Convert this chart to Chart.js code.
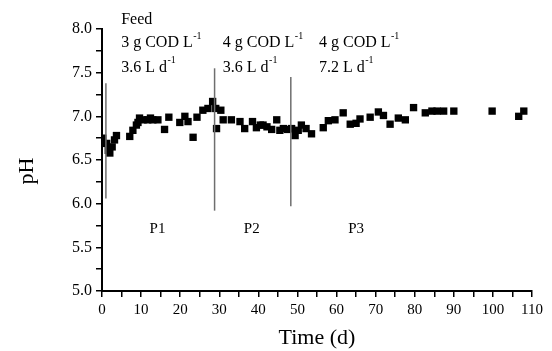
<!DOCTYPE html>
<html>
<head>
<meta charset="utf-8">
<script src="https://cdn.jsdelivr.net/npm/chart.js@4/dist/chart.umd.min.js"></script>
<style>
    html, body { margin: 0; padding: 0; background: #FFFFFF; }
    #chartWrap { width: 552px; height: 351px; position: relative; }
</style>
</head>
<body>
<div id="chartWrap"><canvas id="phChart"></canvas></div>
<script>
// pH readings (time in days)
const timeDays = [
    0.2, 1.2, 1.6, 2.0, 2.6, 3.2, 3.7, 7.1, 7.9, 8.8, 9.2, 9.6, 10.5, 11.7, 12.4, 13.0, 14.3,
    16.0, 17.1, 19.9, 21.2, 22.0, 23.3, 24.3, 25.8, 27.1, 28.3, 29.1, 29.3, 30.4, 31.0,
    33.1, 35.3, 36.5, 38.5, 39.5, 40.5, 41.2, 42.2, 43.4, 44.7, 45.5, 46.4, 47.5, 48.5,
    49.4, 50.2, 51.0, 52.2, 53.6, 56.6, 57.9, 59.6, 61.7, 63.5, 65.0, 66.0, 68.6, 70.7,
    72.0, 73.7, 75.8, 77.6, 79.7, 82.7, 84.4, 85.7, 87.4, 90.0, 99.8, 106.6, 107.9
];
const phValues = [
    6.75, 6.69, 6.61, 6.58, 6.65, 6.73, 6.78, 6.77, 6.84, 6.90, 6.93, 6.98, 6.96, 6.96, 6.98, 6.96, 6.96,
    6.85, 6.99, 6.93, 7.00, 6.94, 6.76, 6.99, 7.07, 7.09, 7.17, 7.09, 6.86, 7.07, 6.96,
    6.96, 6.94, 6.86, 6.94, 6.87, 6.90, 6.90, 6.88, 6.85, 6.96, 6.84, 6.86, 6.85, 6.86,
    6.78, 6.84, 6.90, 6.86, 6.80, 6.87, 6.95, 6.96, 7.04, 6.91, 6.92, 6.97, 6.99, 7.05,
    7.01, 6.91, 6.98, 6.96, 7.10, 7.04, 7.06, 7.06, 7.06, 7.06, 7.06, 7.00, 7.06
];

// period boundary lines
const boundaryDays = [1.0, 28.8, 48.3];
const boundaryTop = [7.38, 7.55, 7.45];
const boundaryBottom = [6.06, 5.92, 5.97];

// period labels
const periodNames = ["P1", "P2", "P3"];
const periodDays = [14.2, 38.3, 65.0];
const periodPh = 5.71;

// feed conditions, one column per period
const feedDays = [4.9, 30.9, 55.5];
const feedCod = ["3", "4", "4"];
const feedFlow = ["3.6", "3.6", "7.2"];
const feedRowPh = [8.10, 7.84, 7.56];

const xTickStep = 5;
const yTickStep = 0.25;

const serif = "'Liberation Serif', 'Times New Roman', serif";


document.addEventListener("DOMContentLoaded", function () {
    initializePhChart();
});


function drawSupText(ctx, parts, x, y) {
    let cursor = x;
    parts.forEach(function (part) {
        if (part.sup) {
            ctx.font = "10px " + serif;
            ctx.fillText(part.text, cursor + 0.5, y - 7);
        } else {
            ctx.font = "16px " + serif;
            ctx.fillText(part.text, cursor, y);
        }
        cursor += ctx.measureText(part.text).width;
    });
}


const annotationPlugin = {
    id: "phAnnotations",

    afterDatasetsDraw: function (chart) {
        const ctx = chart.ctx;
        const xScale = chart.scales.x;
        const yScale = chart.scales.y;

        ctx.save();
        ctx.fillStyle = "#000000";
        ctx.textBaseline = "middle";

        // y axis title, sits a little below the middle in the original
        ctx.save();
        ctx.translate(27, (yScale.top + yScale.bottom) / 2 + 11);
        ctx.rotate(-Math.PI / 2);
        ctx.textAlign = "center";
        ctx.font = "22px " + serif;
        ctx.fillText("pH", 0, 0);
        ctx.restore();

        // period names
        ctx.textAlign = "center";
        ctx.font = "15px " + serif;
        periodNames.forEach(function (name, i) {
            ctx.fillText(
                name,
                xScale.getPixelForValue(periodDays[i]),
                yScale.getPixelForValue(periodPh)
            );
        });

        // feed block
        ctx.textAlign = "left";
        ctx.font = "16px " + serif;
        ctx.fillText(
            "Feed",
            xScale.getPixelForValue(feedDays[0]),
            yScale.getPixelForValue(feedRowPh[0])
        );

        feedDays.forEach(function (day, i) {
            const x = xScale.getPixelForValue(day);

            drawSupText(ctx, [
                { text: feedCod[i] + " g COD L" },
                { text: "-1", sup: true }
            ], x, yScale.getPixelForValue(feedRowPh[1]));

            drawSupText(ctx, [
                { text: feedFlow[i] + " L d" },
                { text: "-1", sup: true }
            ], x, yScale.getPixelForValue(feedRowPh[2]));
        });

        ctx.restore();
    }
};


function initializePhChart() {
    const canvas = document.getElementById("phChart");

    if (!canvas || typeof Chart === "undefined") {
        return;
    }

    const points = timeDays.map(function (day, i) {
        return { x: day, y: phValues[i] };
    });

    const boundaryDatasets = boundaryDays.map(function (day, i) {
        return {
            type: "line",
            data: [
                { x: day, y: boundaryBottom[i] },
                { x: day, y: boundaryTop[i] }
            ],
            borderColor: "#6E6E6E",
            borderWidth: 1.5,
            pointRadius: 0,
            fill: false
        };
    });

    new Chart(canvas, {
        type: "scatter",

        data: {
            datasets: boundaryDatasets.concat([
                {
                    data: points,
                    pointStyle: "rect",
                    pointRadius: 5.2,
                    pointBorderWidth: 0,
                    backgroundColor: "#000000",
                    borderColor: "#000000"
                }
            ])
        },

        options: {
            responsive: true,
            maintainAspectRatio: false,
            animation: false,
            devicePixelRatio: 1,

            layout: {
                padding: { top: 29, right: 20, left: 0, bottom: 0 }
            },

            plugins: {
                legend: { display: false },
                tooltip: { enabled: false }
            },

            scales: {
                x: {
                    type: "linear",
                    min: 0,
                    max: 110,
                    afterFit: function (scale) {
                        scale.height = 60;
                    },
                    border: { color: "#000000", width: 2 },
                    grid: {
                        drawOnChartArea: false,
                        color: "#000000",
                        lineWidth: 1.5,
                        tickLength: 6
                    },
                    ticks: {
                        stepSize: xTickStep,
                        autoSkip: false,
                        maxRotation: 0,
                        padding: 4,
                        color: "#000000",
                        font: { family: serif, size: 15 },
                        callback: function (value) {
                            return value % 10 === 0 ? String(value) : "";
                        }
                    },
                    title: {
                        display: true,
                        text: "Time (d)",
                        color: "#000000",
                        font: { family: serif, size: 22 },
                        padding: { top: 0, bottom: 0 }
                    }
                },

                y: {
                    min: 5,
                    max: 8,
                    afterFit: function (scale) {
                        scale.width = 102;
                    },
                    border: { color: "#000000", width: 2 },
                    grid: {
                        drawOnChartArea: false,
                        color: "#000000",
                        lineWidth: 1.5,
                        tickLength: 6
                    },
                    ticks: {
                        stepSize: yTickStep,
                        autoSkip: false,
                        padding: 4,
                        color: "#000000",
                        font: { family: serif, size: 16 },
                        callback: function (value) {
                            return Math.abs(value * 2 - Math.round(value * 2)) < 1e-6
                                ? value.toFixed(1)
                                : "";
                        }
                    }
                }
            }
        },

        plugins: [annotationPlugin]
    });
}
</script>
</body>
</html>
